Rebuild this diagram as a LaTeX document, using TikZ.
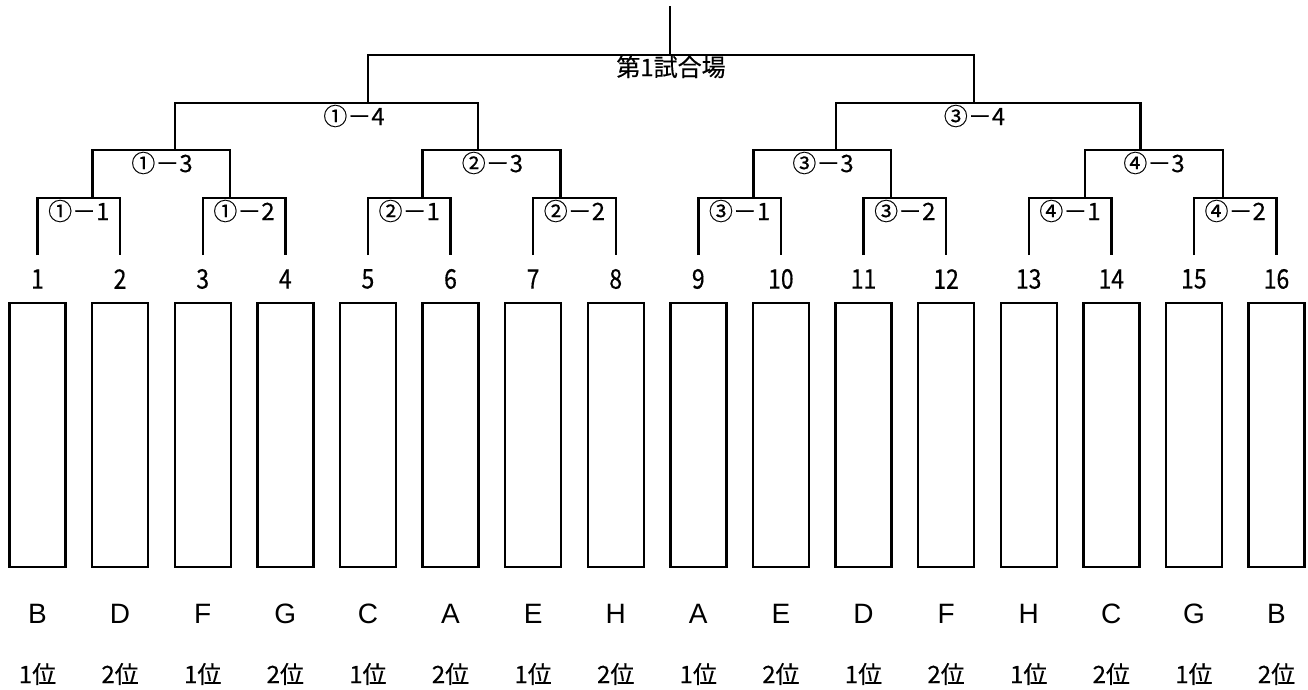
\documentclass[tikz,border=0pt]{standalone}
\usepackage{fontspec}
\setmainfont{Liberation Sans}
\newfontfamily\jpfont[FakeBold=0.4]{Noto Sans CJK JP}
\newfontfamily\jpnarrow[FakeBold=0.4, FakeStretch=0.85]{Noto Sans CJK JP}
\usetikzlibrary{positioning}

\begin{document}
\begin{tikzpicture}[x=1pt, y=-1pt,
    line/.style={line width=2.4pt},
    slot/.style={rectangle, draw, line width=2.4pt, minimum width=56pt, minimum height=264pt, inner sep=0pt},
    seed/.style={font=\jpnarrow\fontsize{27}{27}\selectfont, inner sep=0pt},
    match/.style={font=\jpfont\fontsize{24}{24}\selectfont, inner sep=0pt},
    team/.style={font=\fontsize{28}{28}\selectfont, inner sep=0pt},
    rank/.style={font=\jpfont\fontsize{24}{24}\selectfont, inner sep=0pt},
]
    \useasboundingbox (0,0) rectangle (1308,690);

    % Entries
    \foreach \t [count=\i] in {B,D,F,G,C,A,E,H,A,E,D,F,H,C,G,B} {
        \pgfmathsetmacro\px{37.5+(\i-1)*82.6}
        \pgfmathtruncatemacro\rk{2-mod(\i,2)}
        \coordinate (leaf\i) at (\px,255);
        \node[seed] (num\i) at (\px,279) {\i};
        \node[slot] (slot\i) at (\px,435) {};
        \node[team] (team\i) at (\px,614) {\t};
        \node[rank] (rank\i) at (\px,674) {\rk 位};
    }

    % Junctions
    \coordinate (m11) at (92.6,198);
    \coordinate (m12) at (230,198);
    \coordinate (m13) at (422.6,198);
    \coordinate (m14) at (560.6,198);
    \coordinate (m15) at (753.5,198);
    \coordinate (m16) at (891,198);
    \coordinate (m17) at (1084.8,198);
    \coordinate (m18) at (1223.2,198);
    \coordinate (m21) at (175,150);
    \coordinate (m22) at (477.7,150);
    \coordinate (m23) at (836,150);
    \coordinate (m24) at (1140.3,150);
    \coordinate (m31) at (368,103);
    \coordinate (m32) at (974,103);
    \coordinate (fin) at (670,55);
    \coordinate (out) at (670,6);

    % First round
    \draw[line] (leaf1) |- (m11) -| (leaf2);
    \draw[line] (leaf3) |- (m12) -| (leaf4);
    \draw[line] (leaf5) |- (m13) -| (leaf6);
    \draw[line] (leaf7) |- (m14) -| (leaf8);
    \draw[line] (leaf9) |- (m15) -| (leaf10);
    \draw[line] (leaf11) |- (m16) -| (leaf12);
    \draw[line] (leaf13) |- (m17) -| (leaf14);
    \draw[line] (leaf15) |- (m18) -| (leaf16);

    % Second round
    \draw[line] (m11) |- (m21) -| (m12);
    \draw[line] (m13) |- (m22) -| (m14);
    \draw[line] (m15) |- (m23) -| (m16);
    \draw[line] (m17) |- (m24) -| (m18);

    % Semi finals and final
    \draw[line] (m21) |- (m31) -| (m22);
    \draw[line] (m23) |- (m32) -| (m24);
    \draw[line] (m31) |- (fin) -| (m32);
    \draw[line] (fin) -- (out);

    % Match labels
    \node[match] (g11) at (78.8,211) {①－1};
    \node[match] (g12) at (244,211) {①－2};
    \node[match] (g13) at (409.2,211) {②－1};
    \node[match] (g14) at (574.4,211) {②－2};
    \node[match] (g15) at (739.6,211) {③－1};
    \node[match] (g16) at (904.8,211) {③－2};
    \node[match] (g17) at (1070,211) {④－1};
    \node[match] (g18) at (1235.2,211) {④－2};
    \node[match] (g21) at (162,163) {①－3};
    \node[match] (g22) at (492.4,163) {②－3};
    \node[match] (g23) at (823,163) {③－3};
    \node[match] (g24) at (1154,163) {④－3};
    \node[match] (g31) at (354,116) {①－4};
    \node[match] (g32) at (974.5,116) {③－4};
    \node[match] (venue) at (671,67) {第1試合場};
\end{tikzpicture}
\end{document}
